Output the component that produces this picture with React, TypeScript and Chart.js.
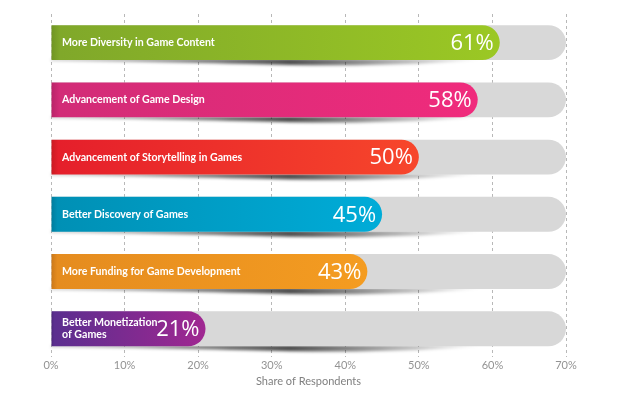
import React, { useEffect, useRef } from "react";
import { Chart, registerables } from "chart.js";

Chart.register(...registerables);

const categories: (string | string[])[] = [
  "More Diversity in Game Content",
  "Advancement of Game Design",
  "Advancement of Storytelling in Games",
  "Better Discovery of Games",
  "More Funding for Game Development",
  ["Better Monetization", "of Games"],
];
const shares = [61, 58, 50, 45, 43, 21];
const trackValues = [70, 70, 70, 70, 70, 70];
const axisMin = 0;
const axisMax = 70;
const tickStep = 10;
const axisTitle = "Share of Respondents";

const edgeColors = ["#6f9423", "#b82468", "#c91a22", "#007c9c", "#c9771a", "#4a2578"];
const startColors = ["#80a82a", "#d22c77", "#e51f2b", "#0090b5", "#e58c1f", "#5b2e8f"];
const endColors = ["#9bc824", "#f02b7c", "#f7462b", "#00acd8", "#f49c21", "#a02791"];
const trackColor = "#d8d8d8";

const shadowPlugin = {
  id: "rowShadows",
  beforeDatasetsDraw(chart: any) {
    const { ctx, chartArea, scales } = chart;
    const meta = chart.getDatasetMeta(1);
    const left = chartArea.left;
    const end = scales.x.getPixelForValue(59);
    ctx.save();
    ctx.filter = "blur(1.6px)";
    meta.data.forEach((el: any) => {
      const { y, height } = el.getProps(["y", "height"], true);
      const bottom = y + height / 2 - 1;
      const span = end - left;
      const g = ctx.createLinearGradient(left, 0, end, 0);
      g.addColorStop(0, "rgba(0,0,0,0.2)");
      g.addColorStop(0.55, "rgba(0,0,0,0.7)");
      g.addColorStop(0.8, "rgba(0,0,0,0.3)");
      g.addColorStop(1, "rgba(0,0,0,0)");
      ctx.beginPath();
      ctx.moveTo(left, bottom);
      ctx.lineTo(end, bottom);
      ctx.quadraticCurveTo(left + span * 0.8, bottom + 9, left + span * 0.45, bottom + 5);
      ctx.quadraticCurveTo(left + span * 0.15, bottom + 2, left, bottom + 2);
      ctx.closePath();
      ctx.fillStyle = g;
      ctx.fill();
    });
    ctx.restore();
  },
};

const labelPlugin = {
  id: "barLabels",
  afterDatasetsDraw(chart: any) {
    const { ctx, chartArea } = chart;
    const meta = chart.getDatasetMeta(0);
    ctx.save();
    ctx.fillStyle = "#ffffff";
    ctx.textBaseline = "middle";
    meta.data.forEach((el: any, i: number) => {
      const { x, y } = el.getProps(["x", "y"], true);
      const label = categories[i];
      const lines = Array.isArray(label) ? label : [label];
      ctx.font = "bold 10.6px Lato";
      ctx.textAlign = "left";
      const lh = 12;
      const y0 = y - ((lines.length - 1) * lh) / 2;
      lines.forEach((t, k) => ctx.fillText(t, chartArea.left + 11, y0 + k * lh));
      ctx.font = '22px "Open Sans"';
      ctx.textAlign = "right";
      ctx.fillText(`${shares[i]}%`, x - 6, y + 1);
    });
    ctx.restore();
  },
};

export default function App() {
  const ref = useRef<HTMLCanvasElement | null>(null);
  useEffect(() => {
    if (!ref.current) return;
    const chart = new Chart(ref.current, {
      type: "bar",
      data: {
        labels: categories as any,
        datasets: [
          {
            data: shares,
            backgroundColor: (c: any) => {
              const i = c.dataIndex;
              if (i === undefined) return endColors[0];
              const chartObj = c.chart;
              const area = chartObj.chartArea;
              if (!area) return endColors[i];
              const endPx = chartObj.scales.x.getPixelForValue(shares[i]);
              const g = chartObj.ctx.createLinearGradient(area.left, 0, endPx, 0);
              g.addColorStop(0, edgeColors[i]);
              g.addColorStop(0.02, startColors[i]);
              g.addColorStop(1, endColors[i]);
              return g;
            },
            borderRadius: 18,
            borderSkipped: "start",
            barPercentage: 0.61,
            categoryPercentage: 1,
            grouped: false,
          } as any,
          {
            data: trackValues,
            backgroundColor: trackColor,
            borderRadius: 18,
            borderSkipped: "start",
            barPercentage: 0.61,
            categoryPercentage: 1,
            grouped: false,
          } as any,
        ],
      },
      options: {
        indexAxis: "y",
        responsive: false,
        animation: false,
        layout: { padding: { left: 51, right: 58, top: 14, bottom: 2.7 } },
        plugins: { legend: { display: false }, tooltip: { enabled: false } },
        scales: {
          x: {
            min: axisMin,
            max: axisMax,
            ticks: {
              stepSize: tickStep,
              color: "#939393",
              font: { family: "Lato", size: 11 },
              padding: 1,
              callback: (v: any) => `${v}%`,
            },
            grid: { color: "#b8b8b8", drawTicks: false, lineWidth: 1 },
            border: { display: false, dash: [3, 3] },
            title: {
              display: true,
              text: axisTitle,
              color: "#808080",
              font: { family: "Lato", size: 11 },
              padding: { top: 2.5, bottom: 4 },
            },
          },
          y: { display: false, grid: { display: false } },
        },
      },
      plugins: [shadowPlugin, labelPlugin],
    });
    return () => chart.destroy();
  }, []);
  return (
    <div style={{ position: "fixed", left: 0, top: 0, width: 624, height: 395, background: "#ffffff" }}>
      <canvas ref={ref} width={624} height={395} />
    </div>
  );
}
